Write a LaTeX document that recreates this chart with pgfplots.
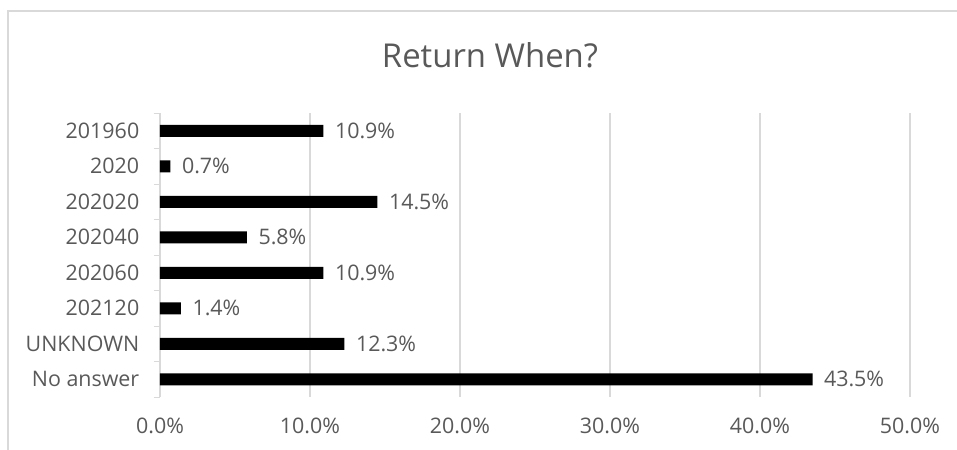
\documentclass[border=0pt]{standalone}
\usepackage{pgfplots}
\pgfplotsset{compat=1.18}
\usepackage{fontspec}
\setmainfont{Open Sans}
\definecolor{txt}{HTML}{595959}
\definecolor{grd}{HTML}{D9D9D9}
\begin{document}
\begin{tikzpicture}
\useasboundingbox (-160bp,-53bp) rectangle (797bp,397bp);
\draw[grd,line width=1.5bp] (-152bp,-53bp) -- (-152bp,386bp) -- (797bp,386bp);
\node[anchor=base,text=txt,font=\fontsize{33}{38}\selectfont] at (330bp,329bp) {Return When?};
\begin{axis}[
  scale only axis, width=750bp, height=284bp,
  xbar, bar width=12bp,
  xmin=0, xmax=50, ymin=-0.5, ymax=7.5, y dir=reverse,
  axis y line*=left, axis x line*=bottom,
  x axis line style={draw=none}, y axis line style={grd,line width=1bp},
  xtick={0,10,...,50}, xmajorgrids, major grid style={grd,line width=1.2bp},
  major x tick style={draw=none},
  ytick={0,...,7}, major y tick style={draw=none},
  minor ytick={-0.5,0.5,...,7.5}, minor tick length=6bp, tick align=outside,
  minor y tick style={grd,line width=1bp},
  yticklabels={201960,2020,202020,202040,202060,202120,UNKNOWN,No answer},
  /pgf/number format/assume math mode=true,
  xticklabel={\pgfmathprintnumber[fixed,fixed zerofill,precision=1]{\tick}\%},
  ticklabel style={text=txt,font=\fontsize{21.5}{25}\selectfont},
  xticklabel style={yshift=-13bp},
  yticklabel style={xshift=-13bp},
  nodes near coords={\pgfmathprintnumber[fixed,fixed zerofill,precision=1]{\pgfplotspointmeta}\%},
  point meta=x,
  every node near coord/.append style={anchor=west,xshift=8bp,text=txt,font=\fontsize{21.5}{25}\selectfont},
]
\addplot[fill=black,draw=none] coordinates {
(10.9,0) (0.7,1) (14.5,2) (5.8,3) (10.9,4) (1.4,5) (12.3,6) (43.5,7)};
\end{axis}
\end{tikzpicture}
\end{document}
